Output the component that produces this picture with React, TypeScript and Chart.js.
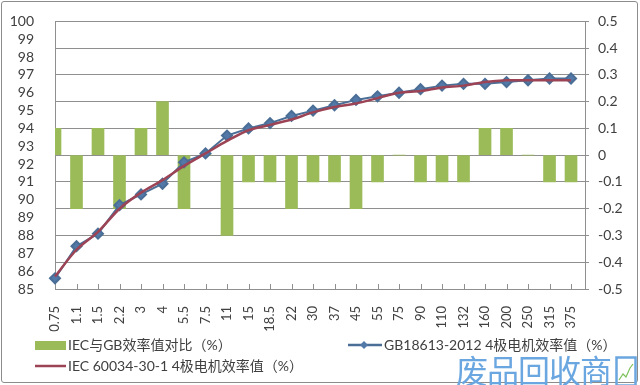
import React, { useEffect, useRef } from "react";
import { Chart, registerables } from "chart.js";

Chart.register(...registerables);

// ---------- data ----------
const categories = [
  "0.75", "1.1", "1.5", "2.2", "3", "4", "5.5", "7.5", "11", "15", "18.5", "22", "30",
  "37", "45", "55", "75", "90", "110", "132", "160", "200", "250", "315", "375",
];
const diffValues = [
  0.1, -0.2, 0.1, -0.2, 0.1, 0.2, -0.2, 0, -0.3, -0.1, -0.1, -0.2, -0.1,
  -0.1, -0.2, -0.1, 0, -0.1, -0.1, -0.1, 0.1, 0.1, 0, -0.1, -0.1,
];
const gbValues = [
  85.6, 87.4, 88.1, 89.7, 90.3, 90.9, 92.1, 92.6, 93.6, 94.0, 94.3, 94.7, 95.0,
  95.3, 95.6, 95.8, 96.0, 96.2, 96.4, 96.5, 96.5, 96.6, 96.7, 96.8, 96.8,
];
const iecValues = [
  85.7, 87.2, 88.2, 89.5, 90.4, 91.1, 91.9, 92.6, 93.3, 93.9, 94.2, 94.5, 94.9,
  95.2, 95.4, 95.7, 96.0, 96.1, 96.3, 96.4, 96.6, 96.7, 96.7, 96.7, 96.7,
];
const seriesNames = [
  "IEC与GB效率值对比（%）",
  "GB18613-2012 4极电机效率值（%）",
  "IEC 60034-30-1 4极电机效率值（%）",
];

// ---------- style ----------
const W = 640;
const H = 385;
const PLOT_LEFT = 55;
const PLOT_RIGHT = 585;
const PLOT_TOP = 16;
const PLOT_BOTTOM = 289;
const X_MAX = categories.length - 1 + 0.65;
const FONT = "Lato, 'Noto Sans CJK SC', sans-serif";
const TEXT = "#404040";
const GRID = "#8f8f8f";
const GREEN = "#9bbb59";
const BLUE = "#4a6e96";
const BLUE_PT = "#5279a8";
const RED = "#9c4456";

const innerTicks = {
  id: "innerTicks",
  beforeDatasetsDraw(chart: any) {
    const xs = chart.scales.x;
    const { ctx, chartArea } = chart;
    ctx.save();
    ctx.strokeStyle = GRID;
    ctx.lineWidth = 1;
    categories.forEach((_, i) => {
      const px = Math.round(xs.getPixelForValue(i)) + 0.5;
      ctx.beginPath();
      ctx.moveTo(px, chartArea.bottom - 5);
      ctx.lineTo(px, chartArea.bottom);
      ctx.stroke();
    });
    ctx.restore();
  },
};

export default function App() {
  const ref = useRef<HTMLCanvasElement | null>(null);

  useEffect(() => {
    document.body.style.margin = "0";
    if (!ref.current) return;
    const chart = new Chart(ref.current, {
      type: "bar",
      data: {
        datasets: [
          {
            type: "bar",
            label: seriesNames[0],
            data: diffValues.map((v, i) => ({ x: i, y: v })),
            backgroundColor: GREEN,
            yAxisID: "y1",
            xAxisID: "x",
            barThickness: 12,
            order: 3,
          } as any,
          {
            type: "line",
            label: seriesNames[1],
            data: gbValues.map((v, i) => ({ x: i, y: v })),
            borderColor: BLUE,
            backgroundColor: BLUE_PT,
            pointBackgroundColor: BLUE_PT,
            pointBorderColor: BLUE,
            pointStyle: "rectRot",
            pointRadius: 5,
            borderWidth: 2,
            yAxisID: "y",
            xAxisID: "x",
            order: 2,
            clip: false,
          },
          {
            type: "line",
            label: seriesNames[2],
            data: iecValues.map((v, i) => ({ x: i, y: v })),
            borderColor: RED,
            pointRadius: 0,
            borderWidth: 2.5,
            tension: 0.3,
            yAxisID: "y",
            xAxisID: "x",
            order: 1,
            clip: false,
          },
        ],
      },
      options: {
        animation: false,
        responsive: false,
        layout: { padding: { top: PLOT_TOP, left: 0, right: 0, bottom: 0 } },
        plugins: { legend: { display: false }, tooltip: { enabled: false } },
        scales: {
          x: {
            type: "linear",
            min: 0,
            max: X_MAX,
            offset: false,
            grid: { display: false },
            border: { display: true, color: GRID },
            ticks: {
              stepSize: 1,
              includeBounds: false,
              autoSkip: false,
              minRotation: 90,
              maxRotation: 90,
              padding: 9,
              color: TEXT,
              font: { family: FONT, size: 13 },
              callback: (v: any) => categories[Math.round(Number(v))] ?? "",
            } as any,
            afterFit: (s: any) => {
              s.height = H - PLOT_BOTTOM;
            },
          },
          y: {
            position: "left",
            min: 85,
            max: 100,
            grid: { display: false },
            border: { display: true, color: GRID },
            ticks: {
              stepSize: 1,
              autoSkip: false,
              padding: 13,
              color: TEXT,
              font: { family: FONT, size: 14 },
            },
            afterFit: (s: any) => {
              s.width = PLOT_LEFT;
            },
          },
          y1: {
            position: "right",
            min: -0.5,
            max: 0.5,
            grid: { color: GRID, tickLength: 4, drawOnChartArea: true },
            border: { display: true, color: GRID },
            ticks: {
              stepSize: 0.1,
              autoSkip: false,
              padding: 9,
              color: TEXT,
              font: { family: FONT, size: 14 },
              callback: (v: any) => String(Math.round(Number(v) * 10) / 10),
            },
            afterFit: (s: any) => {
              s.width = W - PLOT_RIGHT;
            },
          },
        },
      } as any,
      plugins: [innerTicks],
    });
    return () => chart.destroy();
  }, []);

  const textStyle: React.CSSProperties = {
    position: "absolute",
    font: `14px ${FONT}`,
    color: TEXT,
    lineHeight: "18px",
    whiteSpace: "nowrap",
  };

  return (
    <div style={{ position: "relative", width: W, height: H, overflow: "hidden", background: "#fff" }}>
      <canvas ref={ref} width={W} height={H} style={{ position: "absolute", left: 0, top: 0 }} />
      <div
        style={{
          position: "absolute",
          left: 1,
          top: 1,
          width: 637,
          height: 382,
          boxSizing: "border-box",
          border: "1px solid #8c8c8c",
          borderRadius: 3,
          pointerEvents: "none",
        }}
      />
      {/* legend */}
      <div style={{ position: "absolute", left: 35, top: 341, width: 31, height: 9, background: GREEN }} />
      <span style={{ ...textStyle, left: 68, top: 336 }}>{seriesNames[0]}</span>
      <svg style={{ position: "absolute", left: 346, top: 338 }} width={38} height={14}>
        <line x1={2} y1={7} x2={36} y2={7} stroke={BLUE} strokeWidth={2.5} />
        <polygon points="18,3 22,7 18,11 14,7" fill={BLUE_PT} />
      </svg>
      <span style={{ ...textStyle, left: 384, top: 336 }}>{seriesNames[1]}</span>
      <svg style={{ position: "absolute", left: 33, top: 359 }} width={36} height={14}>
        <line x1={2} y1={7} x2={33} y2={7} stroke={RED} strokeWidth={2.5} />
      </svg>
      <span style={{ ...textStyle, left: 68, top: 357 }}>{seriesNames[2]}</span>
      {/* watermark */}
      <span
        style={{
          position: "absolute",
          left: 456,
          top: 353,
          font: "32px 'Noto Sans CJK SC', sans-serif",
          lineHeight: "32px",
          color: "#6aa6e0",
          whiteSpace: "nowrap",
          letterSpacing: -1,
        }}
      >
        废品回收商
      </span>
      <svg style={{ position: "absolute", left: 615, top: 356 }} width={22} height={29}>
        <rect x={1.5} y={1.5} width={19} height={28} fill="none" stroke="#6aa6e0" strokeWidth={2.5} />
        <polyline points="4,24 8,18 11,21 15,12 18,8" fill="none" stroke="#7cc05a" strokeWidth={1.2} />
      </svg>
    </div>
  );
}
